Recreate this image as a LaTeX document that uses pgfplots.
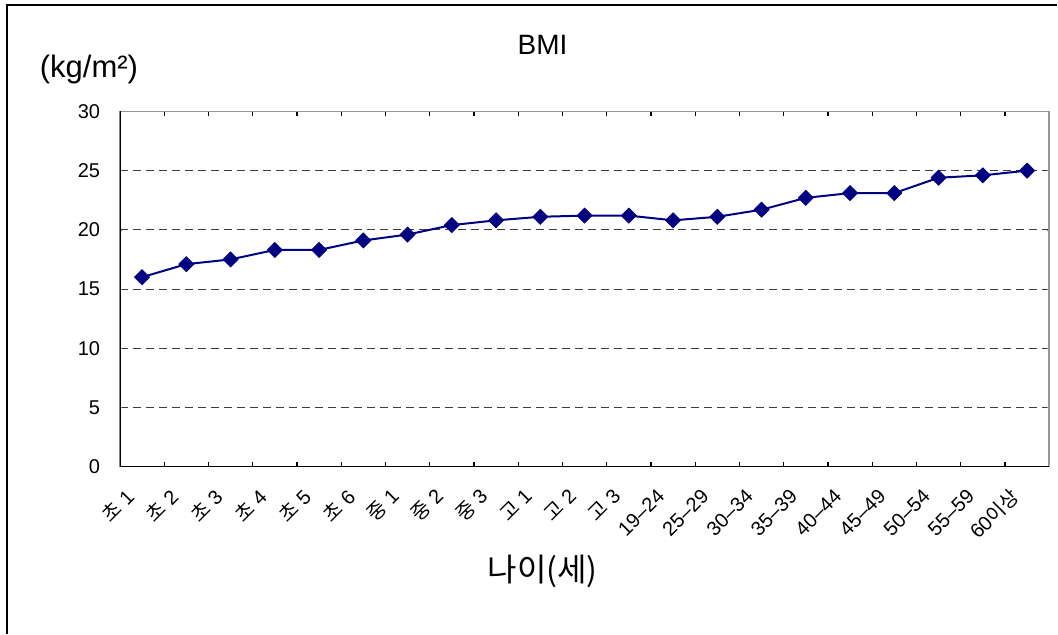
\documentclass[border=0pt]{standalone}
\usepackage{pgfplots}
\pgfplotsset{compat=1.18}
\usepackage{fontspec}
\setmainfont{Liberation Sans}
\newfontfamily\kr{Noto Sans CJK KR}
\definecolor{navyline}{RGB}{0,0,128}
\definecolor{gridgray}{RGB}{60,60,60}
\definecolor{boxgray}{RGB}{150,150,150}

% BMI by age group
\pgfplotstableread{
idx bmi
0 16.0
1 17.1
2 17.5
3 18.3
4 18.3
5 19.1
6 19.6
7 20.4
8 20.8
9 21.1
10 21.2
11 21.2
12 20.8
13 21.1
14 21.7
15 22.7
16 23.1
17 23.1
18 24.4
19 24.6
20 25.0
}\bmidata

\begin{document}
\begin{tikzpicture}
\fill[white] (-60pt,-83.5pt) rectangle (469pt,233.5pt);
% outer chart frame (left and top edges)
\draw[black, line width=0.8pt] (-56.5pt,-83.5pt) -- (-56.5pt,231pt) -- (469pt,231pt);
\begin{axis}[
  at={(0,0)}, anchor=south west,
  scale only axis, width=465pt, height=177.75pt,
  xmin=-0.5, xmax=20.5, ymin=0, ymax=30,
  xtick={0,...,20},
  xticklabels={{\kr 초} 1,{\kr 초} 2,{\kr 초} 3,{\kr 초} 4,{\kr 초} 5,{\kr 초} 6,
    {\kr 중} 1,{\kr 중} 2,{\kr 중} 3,{\kr 고} 1,{\kr 고} 2,{\kr 고} 3,
    19–24,25–29,30–34,35–39,40–44,45–49,50–54,55–59,60{\kr 이상}},
  minor x tick num=1,
  major x tick style={draw=none},
  minor x tick style={black, line width=0.6pt},
  minor tick length=2.5pt,
  major tick length=1pt,
  tick align=inside,
  ytick={0,5,...,30},
  ymajorgrids,
  major grid style={gridgray, line width=0.5pt, dash pattern=on 4pt off 2.5pt},
  axis line style={boxgray, line width=0.8pt},
  tick label style={font=\fontsize{10}{12}\selectfont},
  /pgf/number format/assume math mode=true,
  yticklabel style={xshift=-6.4pt},
  xticklabel style={anchor=east, xshift=-6pt, rotate=45, inner sep=0pt},
  xticklabel shift=13pt,
]
\addplot[navyline, line width=1pt, mark=square*, mark size=2.65pt,
  mark options={rotate=45, fill=navyline, line width=0.4pt}]
  table[x=idx, y=bmi] {\bmidata};
\draw[black, line width=0.8pt] (rel axis cs:0,1) -- (rel axis cs:0,0) -- (rel axis cs:1,0);
\end{axis}
\node[font=\fontsize{14}{16}\selectfont] at (211.5pt,211pt) {BMI};
\node[font=\fontsize{15.5}{18}\selectfont] at (-15.5pt,198.5pt) {(kg/m²)};
\node[font=\kr\fontsize{16}{19}\selectfont] at (211.5pt,-52.5pt) {나이(세)};
\end{tikzpicture}
\end{document}
